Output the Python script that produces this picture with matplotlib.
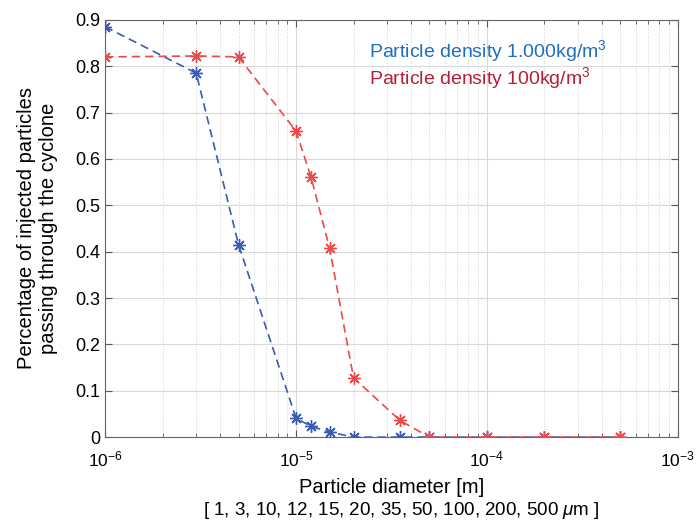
import numpy as np
import matplotlib.pyplot as plt

plt.rcParams['font.family'] = ['Liberation Sans', 'DejaVu Sans']
plt.rcParams['mathtext.fontset'] = 'custom'
plt.rcParams['mathtext.rm'] = 'Liberation Sans'
plt.rcParams['mathtext.it'] = 'Liberation Sans:italic'
plt.rcParams['axes.unicode_minus'] = False

# 粒径 (m)
diameter = [1e-6, 3e-6, 5e-6, 1e-5, 1.2e-5, 1.5e-5, 2e-5, 3.5e-5, 5e-5, 1e-4, 2e-4, 5e-4]
# 密度 1000 kg/m3
pass_1000 = [0.885, 0.785, 0.415, 0.041, 0.023, 0.011, 0.0, 0.0, 0.0, 0.0, 0.0, 0.0]
# 密度 100 kg/m3
pass_100 = [0.82, 0.822, 0.82, 0.66, 0.56, 0.407, 0.128, 0.036, 0.0, 0.0, 0.0, 0.0]
xticks = [1e-6, 1e-5, 1e-4, 1e-3]
xticklabels = ['$10^{-6}$', '$10^{-5}$', '$10^{-4}$', '$10^{-3}$']

fig = plt.figure(figsize=(6.96, 5.21), dpi=100)
ax = fig.add_axes([0.151, 0.161, 0.823, 0.801])

ax.plot(diameter, pass_1000, color='#3a5bb5', linestyle='--', linewidth=1.2,
        marker=(8, 2, 0), markersize=9, markeredgewidth=1.0, dashes=(5, 3), zorder=3)
ax.plot(diameter, pass_100, color='#f04848', linestyle='--', linewidth=1.2,
        marker=(8, 2, 0), markersize=9, markeredgewidth=1.0, dashes=(5, 3), zorder=3)

ax.set_xscale('log')
ax.set_xlim(1e-6, 1e-3)
ax.set_ylim(0, 0.9)
ax.set_xticks(xticks)
ax.set_xticklabels(xticklabels)
ax.set_yticks(np.arange(0, 0.91, 0.1))
ax.set_yticklabels(['0'] + [f'{v:.1f}' for v in np.arange(0.1, 0.91, 0.1)])

ax.grid(True, which='major', color='#d8d8d8', linewidth=0.8, linestyle='-')
ax.grid(True, which='minor', color='#d0d0d0', linewidth=0.7, linestyle=':')
ax.tick_params(which='both', direction='in', top=True, right=True, labelsize=13,
               color='#555555')
ax.tick_params(axis='x', pad=9, labelsize=12.5)
ax.tick_params(which='major', length=5)
ax.tick_params(which='minor', length=3)
for s in ax.spines.values():
    s.set_color('#666666')

ax.set_ylabel('Percentage of injected particles\npassing through the cyclone',
              fontsize=14.5, labelpad=12)
ax.set_xlabel('Particle diameter [m]', fontsize=14.5, labelpad=6)

ax.text(0.46, 0.91, 'Particle density 1.000kg/m$^3$', transform=ax.transAxes,
        color='#1f6fc0', fontsize=14)
ax.text(0.46, 0.845, 'Particle density 100kg/m$^3$', transform=ax.transAxes,
        color='#b5203a', fontsize=14)

fig.text(0.577, 0.012, r'[ 1, 3, 10, 12, 15, 20, 35, 50, 100, 200, 500 $\mu$m ]',
         ha='center', fontsize=13.5)

plt.savefig('out.png', dpi=100)
plt.close()
